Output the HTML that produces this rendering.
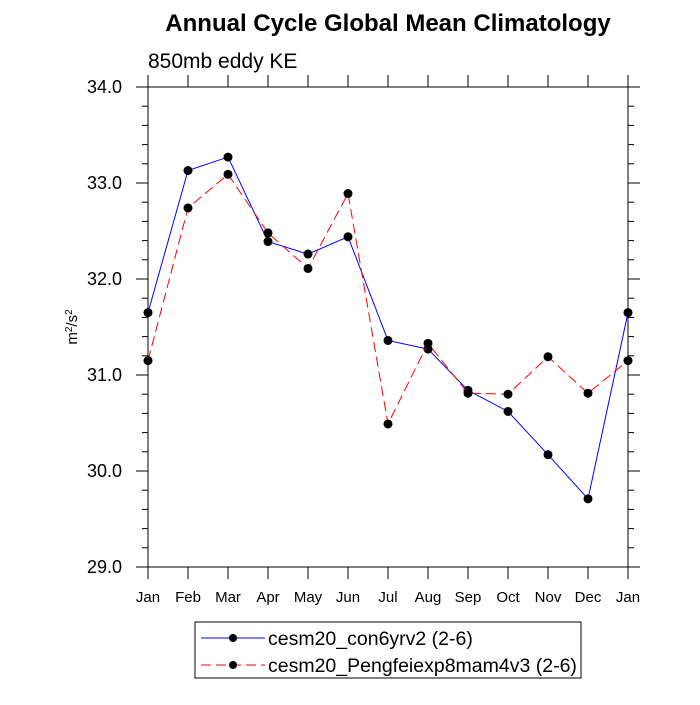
<!DOCTYPE html>
<html><head><style>body{margin:0;background:#fff}svg text{font-family:"Liberation Sans",sans-serif}</style></head>
<body>
<svg id="c" width="700" height="700">
<text x="388" y="31" font-size="24" font-weight="bold" text-anchor="middle">Annual Cycle Global Mean Climatology</text>
<text x="148" y="68" font-size="21">850mb eddy KE</text>
<text transform="translate(77,327) rotate(-90)" font-size="15" text-anchor="middle">m<tspan dy="-5" font-size="10">2</tspan><tspan dy="5">/s</tspan><tspan dy="-5" font-size="10">2</tspan></text>
<g id="axes"></g><g id="series"></g>
<g>
<rect x="195" y="622" width="386" height="56" fill="#fff" stroke="#000" stroke-width="1"/>
<line x1="201" y1="638" x2="265" y2="638" stroke="#00f"/>
<circle cx="233" cy="638" r="4"/>
<text x="268" y="645" font-size="19.5">cesm20_con6yrv2 (2-6)</text>
<line x1="201" y1="665" x2="265" y2="665" stroke="#f00" stroke-dasharray="10,5"/>
<circle cx="233" cy="665" r="4"/>
<text x="268" y="672" font-size="19.5">cesm20_Pengfeiexp8mam4v3 (2-6)</text>
</g>
</svg>
<script>
const months=["Jan","Feb","Mar","Apr","May","Jun","Jul","Aug","Sep","Oct","Nov","Dec","Jan"];
const blueVals=[31.65,33.13,33.27,32.39,32.26,32.44,31.36,31.27,30.84,30.62,30.17,29.71,31.65];
const redVals=[31.15,32.74,33.09,32.48,32.11,32.89,30.49,31.33,30.81,30.80,31.19,30.81,31.15];
const yTicks=[29,30,31,32,33,34];
const NS="http://www.w3.org/2000/svg";
const L=148,R=628,T=87,B=567,ymin=29,ymax=34;
const xs=i=>L+(R-L)*i/(months.length-1);
const ys=v=>B-(v-ymin)/(ymax-ymin)*(B-T);
function mk(tag,at,parent){const e=document.createElementNS(NS,tag);for(const k in at)e.setAttribute(k,at[k]);parent.appendChild(e);return e;}
const ax=document.getElementById('axes');
const fr=mk('rect',{x:L,y:T,width:R-L,height:B-T,fill:'none',stroke:'#000','stroke-width':1},ax);


for(let v=ymin;v<=ymax+1e-9;v+=0.2){const maj=Math.abs(v-Math.round(v))<1e-6;const len=maj?12:6;
 for(const [x0,d] of [[L,-1],[R,1]]){const t=mk('line',{x1:x0,x2:x0+d*len,y1:ys(v),y2:ys(v),stroke:'#000'},ax);
 
 }}
yTicks.forEach(v=>{const t=mk('text',{x:L-26,y:ys(v)+6,'font-size':18,'text-anchor':'end'},ax);t.textContent=v.toFixed(1);
 
 });
months.forEach((m,i)=>{for(const [y0,d] of [[B,1],[T,-1]]){const t=mk('line',{x1:xs(i),x2:xs(i),y1:y0,y2:y0+d*12,stroke:'#000'},ax);
 
 }
 const t=mk('text',{x:xs(i),y:B+35,'font-size':15,'text-anchor':'middle'},ax);t.textContent=m;
 
 });
const sg=document.getElementById('series');
function series(vals,col,dash,name){const p=mk('polyline',{points:vals.map((v,i)=>xs(i)+','+ys(v)).join(' '),fill:'none',stroke:col,'stroke-width':1,'stroke-dasharray':dash},sg);
 
 
 vals.forEach((v,i)=>{const c=mk('circle',{cx:xs(i),cy:ys(v),r:4.5,fill:'#000'},sg);
 
 });}
series(blueVals,'#00f','none','con6yrv2');
series(redVals,'#f00','10,5','pengfei');
</script>
</body></html>
